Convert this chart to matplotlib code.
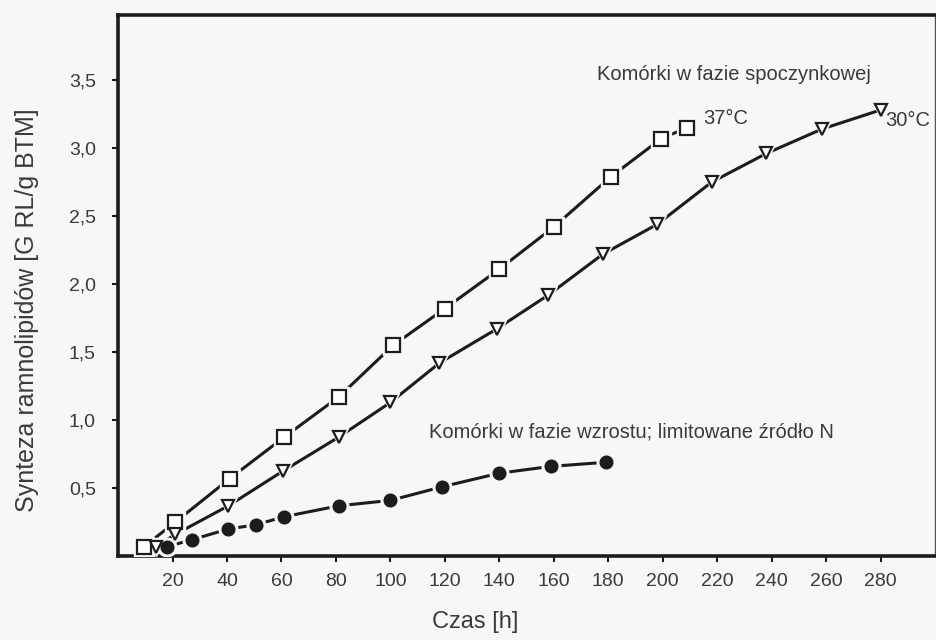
import matplotlib.pyplot as plt
from matplotlib.ticker import FuncFormatter

plt.rcParams['font.family'] = ['Liberation Sans', 'DejaVu Sans']

# 37°C - squares (stationary phase)
t_37 = [9.5, 21, 41, 61, 81, 101, 120, 140, 160, 181, 199.5, 209]
rl_37 = [0.07, 0.25, 0.57, 0.875, 1.17, 1.55, 1.82, 2.11, 2.42, 2.79, 3.07, 3.15]

# 30°C - triangles (stationary phase)
t_30 = [14, 21, 40.5, 60.5, 81, 100, 118, 139, 158, 178, 198, 218, 238, 258.5, 280]
rl_30 = [0.07, 0.16, 0.37, 0.625, 0.875, 1.13, 1.42, 1.67, 1.92, 2.22, 2.44, 2.75, 2.96, 3.14, 3.28]

# growth phase, N-limited - filled circles
t_n = [18, 27, 40.5, 50.5, 61, 81, 100, 119, 140, 159, 179]
rl_n = [0.07, 0.12, 0.20, 0.23, 0.29, 0.37, 0.41, 0.51, 0.61, 0.66, 0.69]

x_ticks = list(range(20, 300, 20))
y_ticks = [0.5, 1.0, 1.5, 2.0, 2.5, 3.0, 3.5]

ink = '#1c1c1c'
txt = '#3a3a3a'
bg = '#f7f7f7'

fig = plt.figure(figsize=(9.37, 6.4), dpi=100, facecolor=bg)
ax = fig.add_axes([0.126, 0.131, 0.872, 0.846], facecolor=bg)

def series(x, y, marker, ms, face):
    ax.plot(x, y, '-', color=ink, lw=2.2, zorder=2)
    # white halo so the line breaks a little around each marker
    ax.plot(x, y, linestyle='none', marker=marker, ms=ms + 5, mfc=bg, mec=bg, zorder=3)
    ax.plot(x, y, linestyle='none', marker=marker, ms=ms, mfc=face, mec=ink,
            mew=1.6, zorder=4)

series(t_37, rl_37, 's', 9.5, 'white')
series(t_30, rl_30, 'v', 8, 'white')
series(t_n, rl_n, 'o', 8.5, ink)

ax.text(176, 3.54, 'Komórki w fazie spoczynkowej', fontsize=14.5, color=txt, va='center')
ax.text(215, 3.22, '37°C', fontsize=14.5, color=txt, va='center')
ax.text(281.5, 3.20, '30°C', fontsize=14.5, color=txt, va='center')
ax.text(114, 0.91, 'Komórki w fazie wzrostu; limitowane źródło N', fontsize=14.5,
        color=txt, va='center')

ax.set_xlim(0, 300)
ax.set_ylim(0, 3.98)
ax.set_xticks(x_ticks)
ax.set_yticks(y_ticks)
ax.yaxis.set_major_formatter(FuncFormatter(lambda v, p: f'{v:.1f}'.replace('.', ',')))
ax.tick_params(direction='out', length=4, width=1.5, colors=ink, labelcolor=txt,
               labelsize=14, pad=8)
ax.tick_params(axis='y', pad=12)

for side in ['left', 'bottom', 'top']:
    ax.spines[side].set_linewidth(2.6)
    ax.spines[side].set_color(ink)
ax.spines['right'].set_linewidth(1.0)
ax.spines['right'].set_color('#555555')

ax.set_xlabel('Czas [h]', fontsize=17, color=txt)
ax.xaxis.set_label_coords(0.437, -0.102)
ax.set_ylabel('Synteza ramnolipidów [G RL/g BTM]', fontsize=18, color=txt)
ax.yaxis.set_label_coords(-0.097, 0.455)

fig.savefig('out.png', dpi=100, facecolor=bg)
